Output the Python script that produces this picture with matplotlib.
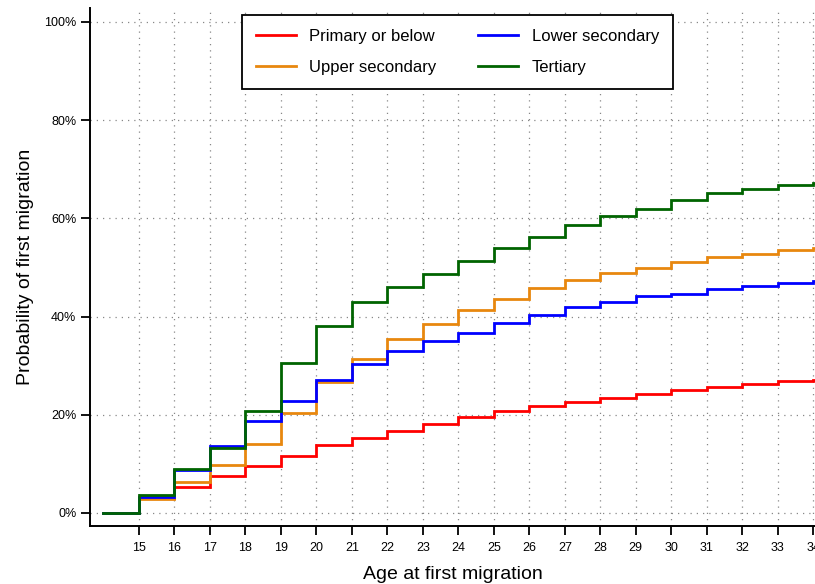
import matplotlib
matplotlib.use("Agg")
import matplotlib.pyplot as plt
from matplotlib.ticker import FuncFormatter

plt.rcParams['font.family'] = ['Liberation Sans', 'DejaVu Sans']

ages = [14, 15, 16, 17, 18, 19, 20, 21, 22, 23, 24, 25, 26, 27, 28, 29, 30, 31, 32, 33, 34]

primary = [0, 3.0, 5.2, 7.5, 9.6, 11.6, 13.8, 15.2, 16.7, 18.2, 19.5, 20.8, 21.8, 22.6,
           23.5, 24.2, 25.0, 25.6, 26.2, 26.8, 27.1]
lower_sec = [0, 3.2, 8.7, 13.6, 18.7, 22.8, 27.1, 30.3, 32.9, 35.1, 36.7, 38.6, 40.3, 42.0,
             43.0, 44.1, 44.7, 45.6, 46.2, 46.8, 47.2]
upper_sec = [0, 2.8, 6.4, 9.8, 14.0, 20.4, 26.7, 31.4, 35.4, 38.4, 41.3, 43.6, 45.8, 47.5,
             48.9, 49.9, 51.2, 52.2, 52.7, 53.6, 53.9]
tertiary = [0, 3.7, 9.0, 13.3, 20.8, 30.5, 38.1, 43.0, 46.0, 48.7, 51.3, 54.0, 56.3, 58.7,
            60.5, 61.9, 63.8, 65.1, 66.0, 66.8, 67.2]

series_names = ["Primary or below", "Lower secondary", "Upper secondary", "Tertiary"]
series_vals = [primary, lower_sec, upper_sec, tertiary]
colors = ["#FF0000", "#0000FF", "#E8870E", "#006400"]

xticks = list(range(15, 35))
yticks = [0, 20, 40, 60, 80, 100]

fig = plt.figure(figsize=(8.15, 5.84), dpi=100)
ax = fig.add_axes([90/815, 1 - 526/584, 1 - 90/815, 518/584])

x_ext = ages + [ages[-1] + 1]
order = [0, 2, 1, 3]
handles = {}
for i in order:
    y_ext = series_vals[i] + [series_vals[i][-1]]
    h, = ax.step(x_ext, y_ext, where='post', color=colors[i], lw=2.0,
                 label=series_names[i], solid_joinstyle='miter')
    handles[i] = h

ax.set_xlim(13.62, 34.05)
ax.set_ylim(-2.65, 102.85)
ax.set_xticks(xticks)
ax.set_yticks(yticks)
ax.yaxis.set_major_formatter(FuncFormatter(lambda v, p: f"{int(v)}%"))
ax.tick_params(axis='both', labelsize=9, length=6.3, width=1.3, direction='out')
ax.tick_params(axis='x', pad=5)
ax.grid(True, linestyle=(0, (1, 4)), color='#888888', linewidth=0.9)
ax.set_axisbelow(True)

for s in ['top', 'right']:
    ax.spines[s].set_visible(False)
for s in ['left', 'bottom']:
    ax.spines[s].set_linewidth(1.4)

ax.set_xlabel("Age at first migration", fontsize=14, labelpad=9)
ax.set_ylabel("Probability of first migration", fontsize=14, labelpad=7)

leg = ax.legend([handles[0], handles[2], handles[1], handles[3]],
                [series_names[0], series_names[2], series_names[1], series_names[3]],
                ncol=2, loc='upper center', bbox_to_anchor=(0.507, 0.9865),
                fontsize=12, frameon=True, fancybox=False, edgecolor='black',
                handlelength=2.4, handletextpad=0.8, columnspacing=2.5,
                borderpad=0.85, labelspacing=0.95, borderaxespad=0,
                framealpha=1)
leg.get_frame().set_linewidth(1.3)

fig.savefig("out.png", dpi=100)
